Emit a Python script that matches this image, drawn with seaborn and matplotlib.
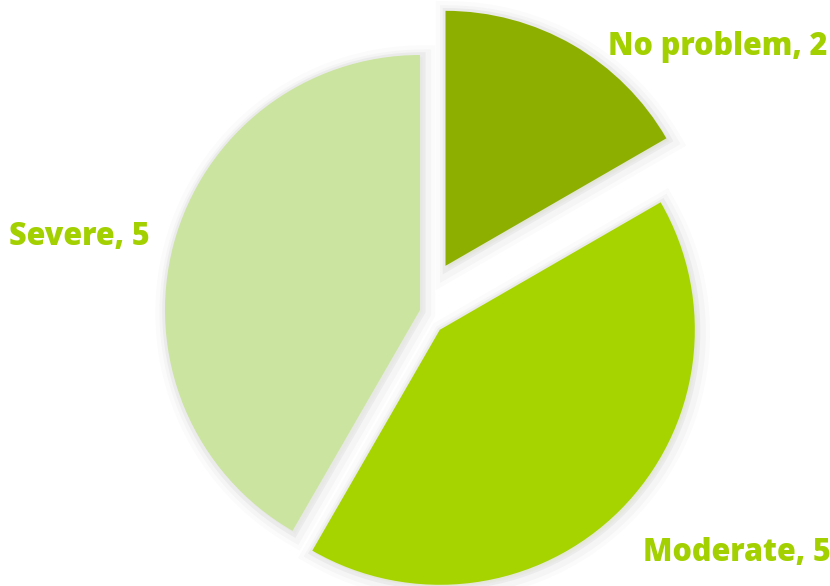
import seaborn as sns
import matplotlib.pyplot as plt
import matplotlib.patheffects as pe

# Data
categories = ["No problem", "Moderate", "Severe"]
counts = [2, 5, 5]
slice_colors = ["#8db000", "#a6d400", "#cbe4a0"]

sns.set_theme(style="white")
plt.rcParams["font.family"] = ["Open Sans", "DejaVu Sans"]

fig = plt.figure(figsize=(8.3, 5.86), dpi=100)
ax = fig.add_axes([0, 0, 1, 1])

# soft glow/shadow round each slice
shadow = [
    pe.Stroke(linewidth=18, foreground="#000000", alpha=0.015, offset=(2, -2)),
    pe.Stroke(linewidth=12, foreground="#000000", alpha=0.025, offset=(2, -2)),
    pe.Stroke(linewidth=6, foreground="#000000", alpha=0.04, offset=(1, -1)),
    pe.Normal(),
]

wedges, _ = ax.pie(
    counts,
    colors=slice_colors,
    startangle=90,
    counterclock=False,
    radius=255,
    center=(420, 276),
    explode=[51, 28, 0],
    frame=True,
    wedgeprops=dict(linewidth=0, path_effects=shadow),
)

ax.set_xlim(0, 830)
ax.set_ylim(0, 586)
ax.set_aspect("equal")
ax.axis("off")

label_pos = {"No problem": (718, 539), "Moderate": (737, 33), "Severe": (79, 349)}
for name, n in zip(categories, counts):
    x, y = label_pos[name]
    ax.text(x, y, f"{name}, {n}", ha="center", va="center",
            fontsize=22, fontweight="heavy", color="#a2d000")

fig.savefig("out.png", dpi=100)
